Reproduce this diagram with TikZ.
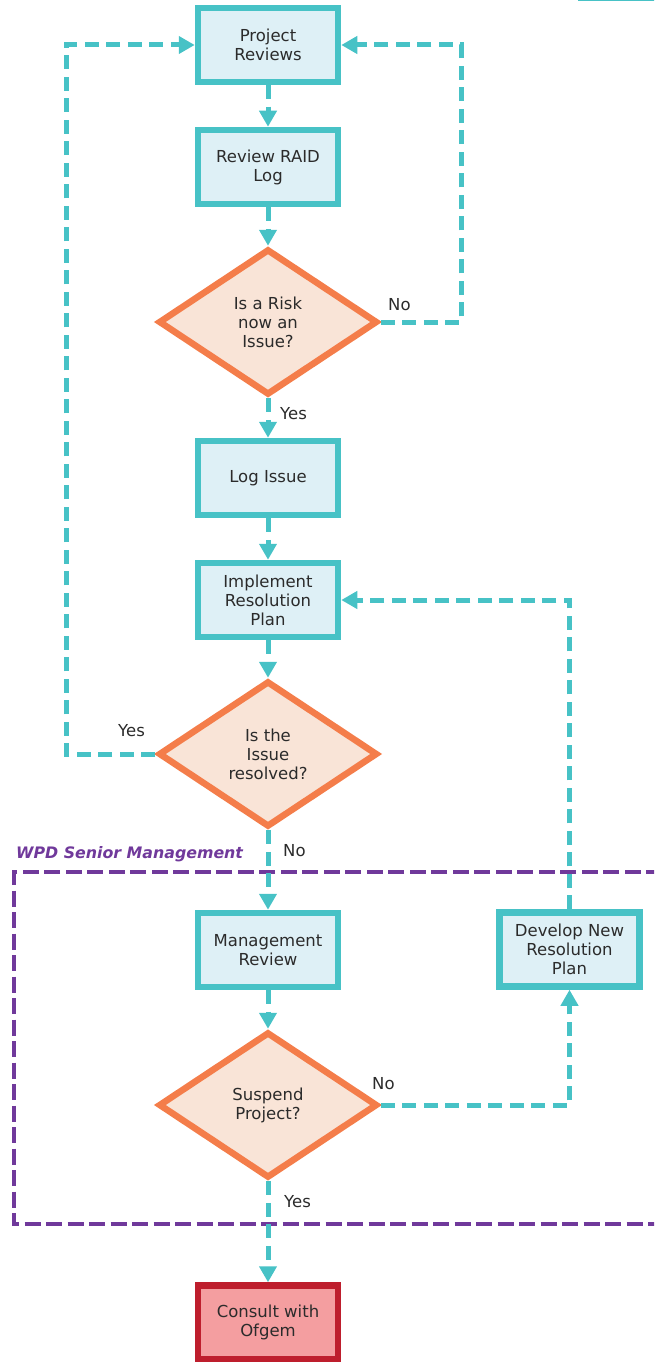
\documentclass[tikz,border=0pt]{standalone}
\usepackage{fontspec}
\setmainfont{DejaVu Sans}
\usetikzlibrary{shapes.geometric,arrows.meta}

\definecolor{flowteal}{RGB}{71,194,198}
\definecolor{boxfill}{RGB}{222,240,246}
\definecolor{decorange}{RGB}{244,125,74}
\definecolor{decfill}{RGB}{249,228,215}
\definecolor{mgmtpurple}{RGB}{112,57,155}
\definecolor{alertred}{RGB}{190,30,45}
\definecolor{alertfill}{RGB}{244,158,160}
\definecolor{txtgrey}{RGB}{43,43,43}

\newcommand{\flowfont}{\fontsize{16.5}{19}\selectfont}
\newcommand{\lanefont}{\fontsize{15.8}{19}\selectfont\bfseries\itshape}

\tikzset{
  procbox/.style={rectangle, draw=flowteal, fill=boxfill, line width=6.5pt,
    minimum width=140pt, minimum height=74pt, inner sep=0pt,
    align=center, text=txtgrey, font=\flowfont},
  alertbox/.style={procbox, draw=alertred, fill=alertfill},
  decision/.style={diamond, draw=decorange, fill=decfill, line width=6.5pt,
    aspect=1.5, minimum width=219pt, minimum height=146pt, inner sep=1pt,
    align=center, text=txtgrey, font=\flowfont},
  flow/.style={draw=flowteal, line width=5pt, dash pattern=on 14pt off 7.5pt,
    -{Triangle[length=16pt,width=17pt]}},
  lbl/.style={text=txtgrey, font=\flowfont, inner sep=0pt, anchor=base west},
  mgmt/.style={draw=mgmtpurple, line width=4.5pt, dash pattern=on 16pt off 5.5pt},
}

\begin{document}
\begin{tikzpicture}[x=1pt,y=-1pt]
  \useasboundingbox (0,0) rectangle (654,1362);
  \clip (0,0) rectangle (654,1362);

  % edge of a box just above this page
  \draw[flowteal, line width=2pt] (578,0.5) -- (660,0.5);

  % management swimlane
  \draw[mgmt] (662,872) -- (14,872) -- (14,1224) -- (662,1224);
  \node[lbl, text=mgmtpurple, font=\lanefont] (lane) at (16,858)
    {WPD Senior Management};

  % process steps
  \node[procbox] (pr)  at (268,45)    {Project\\Reviews};
  \node[procbox] (rl)  at (268,167)   {Review RAID\\Log};
  \node[decision] (d1) at (268,322)   {Is a Risk\\now an\\Issue?};
  \node[procbox] (li)  at (268,478)   {Log Issue};
  \node[procbox] (irp) at (268,600)   {Implement\\Resolution\\Plan};
  \node[decision] (d2) at (268,754)   {Is the\\Issue\\resolved?};
  \node[procbox] (mr)  at (268,950)   {Management\\Review};
  \node[procbox] (dn)  at (569.5,949.5) {Develop New\\Resolution\\Plan};
  \node[decision] (d3) at (268,1105)  {Suspend\\Project?};
  \node[alertbox] (co) at (268,1322.5) {Consult with\\Ofgem};

  % loop corners
  \coordinate (rloop) at (461,322);
  \coordinate (lloop) at (66,754);

  % connectors
  \draw[flow] (pr) -- (rl);
  \draw[flow] (rl) -- (d1.north);
  \draw[flow] (d1.south) -- (li);
  \draw[flow] (d1.east) -- (rloop) |- (pr.east);
  \draw[flow] (li) -- (irp);
  \draw[flow] (irp) -- (d2.north);
  \draw[flow] (d2.west) -- (lloop) |- (pr.west);
  \draw[flow] (d2.south) -- (mr);
  \draw[flow] (mr) -- (d3.north);
  \draw[flow] (d3.east) -| (dn.south);
  \draw[flow] (dn.north) |- (irp.east);
  \draw[flow] (d3.south) -- (co);

  % branch labels
  \node[lbl] (d1no)  at (388,310)  {No};
  \node[lbl] (d1yes) at (280,419)  {Yes};
  \node[lbl] (d2yes) at (118,736)  {Yes};
  \node[lbl] (d2no)  at (283,856)  {No};
  \node[lbl] (d3no)  at (372,1089) {No};
  \node[lbl] (d3yes) at (284,1207) {Yes};
\end{tikzpicture}
\end{document}
